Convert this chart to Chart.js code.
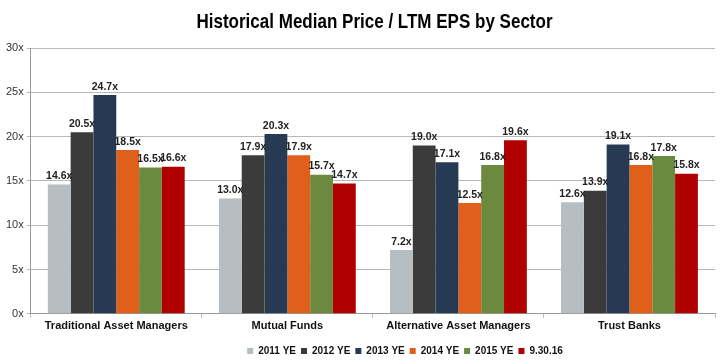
<!DOCTYPE html>
<html><head><meta charset="utf-8">
<script src="https://cdn.jsdelivr.net/npm/chart.js@4/dist/chart.umd.min.js"></script>
<style>html,body{margin:0;padding:0;background:#fff}#wrap{width:728px;height:364px}</style>
</head><body><div id="wrap"><canvas id="c" width="728" height="364"></canvas></div>
<script>
const chartTitle = "Historical Median Price / LTM EPS by Sector";
const categories = ["Traditional Asset Managers", "Mutual Funds", "Alternative Asset Managers", "Trust Banks"];
const seriesNames = ["2011 YE", "2012 YE", "2013 YE", "2014 YE", "2015 YE", "9.30.16"];
const s2011 = [14.6, 13.0, 7.2, 12.6];
const s2012 = [20.5, 17.9, 19.0, 13.9];
const s2013 = [24.7, 20.3, 17.1, 19.1];
const s2014 = [18.5, 17.9, 12.5, 16.8];
const s2015 = [16.5, 15.7, 16.8, 17.8];
const s2016 = [16.6, 14.7, 19.6, 15.8];
const yTicks = [0, 5, 10, 15, 20, 25, 30];
const colors = ["#b6bec2", "#3b3b3b", "#263b53", "#e0601b", "#6b8a40", "#b10000"];
const allSeries = [s2011, s2012, s2013, s2014, s2015, s2016];

const labelPlugin = {
  id: 'barLabels',
  afterDatasetsDraw(chart) {
    const ctx = chart.ctx;
    ctx.save();
    ctx.font = 'bold 10.5px "Liberation Sans", Arial, sans-serif';
    ctx.fillStyle = '#222';
    ctx.textAlign = 'center';
    ctx.textBaseline = 'bottom';
    chart.data.datasets.forEach((ds, i) => {
      const meta = chart.getDatasetMeta(i);
      meta.data.forEach((bar, j) => {
        ctx.fillText(ds.data[j].toFixed(1) + 'x', bar.x, bar.y - 3);
      });
    });
    ctx.restore();
  }
};
const titlePlugin = {
  id: 'narrowTitle',
  afterDraw(chart) {
    const ctx = chart.ctx;
    ctx.save();
    ctx.font = 'bold 21px "Liberation Sans", Arial, sans-serif';
    ctx.fillStyle = '#000';
    ctx.textAlign = 'center';
    ctx.textBaseline = 'alphabetic';
    ctx.translate(374.5, 28);
    ctx.scale(0.81, 1);
    ctx.fillText(chartTitle, 0, 0);
    ctx.restore();
  }
};
const legendShift = {
  id: 'legendShift',
  afterLayout(chart) {
    const l = chart.legend;
    if (l) { l.left += 46; l.right += 46; l.top += 6; l.bottom += 6; }
  }
};

new Chart(document.getElementById('c'), {
  type: 'bar',
  data: {
    labels: categories,
    datasets: allSeries.map((d, i) => ({
      label: seriesNames[i], data: d, backgroundColor: colors[i], borderWidth: 0,
      categoryPercentage: 0.8, barPercentage: 1.0
    }))
  },
  options: {
    responsive: false, animation: false, devicePixelRatio: 1,
    layout: { padding: { left: 3, right: 13, top: 48, bottom: 4 } },
    plugins: {
      title: { display: false },
      legend: {
        position: 'bottom',
        labels: {
          boxWidth: 6, boxHeight: 6, padding: 5, color: '#111',
          font: { family: '"Liberation Sans", Arial', size: 10, weight: 'bold' }
        }
      },
      tooltip: { enabled: false }
    },
    scales: {
      x: {
        grid: { drawOnChartArea: false, drawTicks: true, tickLength: 4, color: '#bbb' },
        border: { display: true, color: '#999', width: 1 },
        ticks: { color: '#111', font: { family: '"Liberation Sans", Arial', size: 11, weight: 'bold' }, padding: 2 }
      },
      y: {
        min: 0, max: 30,
        afterBuildTicks(axis) { axis.ticks = yTicks.map(v => ({ value: v })); },
        grid: { color: '#b8b8b8', lineWidth: 1, tickLength: 4 },
        border: { display: true, color: '#999', width: 1 },
        ticks: { color: '#333', font: { family: '"Liberation Sans", Arial', size: 11 }, padding: 3, callback: v => v + 'x' }
      }
    }
  },
  plugins: [labelPlugin, titlePlugin, legendShift]
});
</script></body></html>
